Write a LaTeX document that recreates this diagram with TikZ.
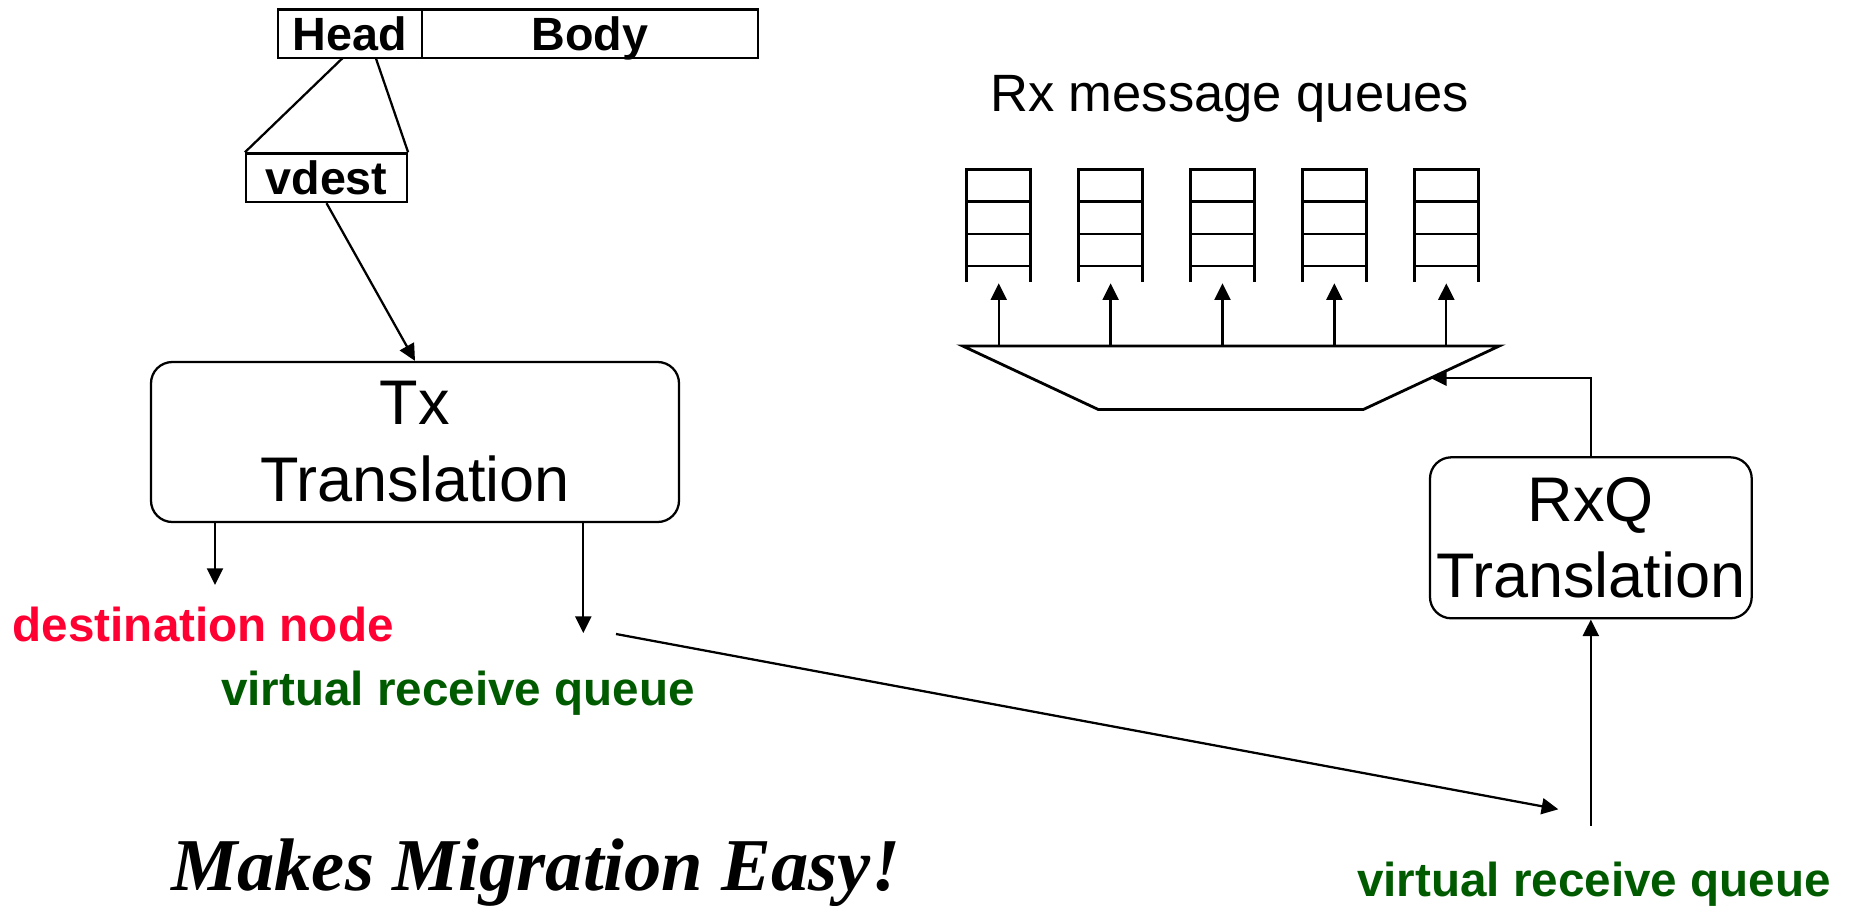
\documentclass[tikz,border=0pt]{standalone}
\usepackage{fontspec}
\setmainfont{Liberation Sans}
\newfontfamily\slogan{Liberation Serif}
\usetikzlibrary{arrows.meta}
\definecolor{destred}{RGB}{255,0,51}
\definecolor{vqgreen}{RGB}{0,90,0}
\begin{document}
\begin{tikzpicture}[x=0.75pt,y=-0.75pt,
  line width=1.7pt,
  arr/.style={-{Triangle[length=12.5pt,width=12pt]}},
  hdrbox/.style={draw,inner sep=0pt,line width=1.7pt,text height=25pt,text depth=0pt,
                 font=\bfseries\fontsize{35}{42}\selectfont},
  xlat/.style={draw,rounded corners=16pt,inner sep=0pt,align=center,
               font=\fontsize{47.3}{57.6}\selectfont},
  tag/.style={inner sep=0pt,anchor=base west,font=\bfseries\fontsize{35.7}{42}\selectfont},
  queue/.style={line width=2.1pt},
]
\useasboundingbox (0,0) rectangle (1853,906);

% message header and the vdest field
\node[hdrbox, minimum width=108pt, minimum height=36.4pt] (head) at (350,33.75) {Head};
\node[hdrbox, minimum width=252pt, minimum height=36.4pt] (body) at (590,33.75) {Body};
\node[hdrbox, minimum width=120.75pt, minimum height=36.4pt] (vdest) at (326.5,177.75) {vdest};
\coordinate (h1) at (342.7,58);
\coordinate (h2) at (375.8,58);
\draw (h1) -- (vdest.north west);
\draw (h2) -- (vdest.north east);

% transmit side
\node[xlat, minimum width=396pt, minimum height=120pt] (tx) at (415,442) {Tx\\Translation};
\draw[arr] (vdest.south) -- (tx.north);

\coordinate (dnend) at (215,585);
\coordinate (vqend) at (583.3,633);
\draw[arr] (tx.south -| dnend) -- (dnend);
\draw[arr] (tx.south -| vqend) -- (vqend);

\node[tag, text=destred] (dest) at (11.7,641.7) {destination node};
\node[tag, text=vqgreen] (vq1) at (220,705) {virtual receive queue};

\node[inner sep=0pt, anchor=base west,
      font=\slogan\bfseries\itshape\fontsize{55.9}{66}\selectfont] (motto) at (170,890.7) {Makes Migration Easy!};

% network hop to the receiving side
\coordinate (lstart) at (616,634);
\coordinate (lend) at (1558.3,809.3);
\draw[arr] (lstart) -- (lend);

\node[tag, text=vqgreen] (vq2) at (1356,896.7) {virtual receive queue};

% receive side
\node[xlat, minimum width=241.3pt, minimum height=120.75pt] (rxq) at (1590.85,537.8) {RxQ\\Translation};
\coordinate (vq2top) at (1590.85,825.7);
\draw[arr] (vq2top) -- (rxq.south);

% demultiplexer
\coordinate (tz) at (962.7,346);
\draw[queue] (tz) -- (1499.3,346) -- (1363.3,409.5) -- (1098.3,409.5) -- cycle;
\coordinate (tin) at (1430,377.7);
\draw[arr] (rxq.north) |- (tin);

% message queues
\node[inner sep=0pt, anchor=base west, font=\fontsize{39.4}{46}\selectfont] (rxlabel) at (989,111.7) {Rx message queues};
\foreach \i/\x in {0/998.7,1/1110.6,2/1222.5,3/1334.4,4/1446.3} {
  \draw[queue] (\x-32,281.7) -- (\x-32,169.3) -- (\x+32,169.3) -- (\x+32,281.7);
  \foreach \y in {201.7,234,266}
    \draw[queue] (\x-32,\y) -- (\x+32,\y);
  \coordinate (q\i) at (\x,283.3);
  \draw[arr] (q\i |- tz) -- (q\i);
}
\end{tikzpicture}
\end{document}
